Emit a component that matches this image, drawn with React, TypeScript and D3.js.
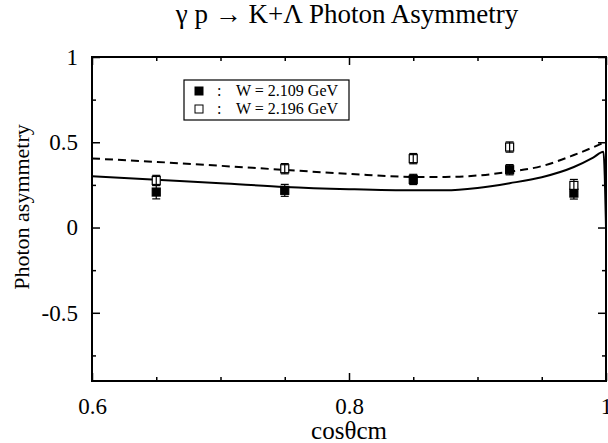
import React from 'react'
import * as d3 from 'd3'

// measured points (cos theta_cm)
const cosTheta = [0.65, 0.75, 0.85, 0.925, 0.975]
const asymW2109 = [0.208, 0.218, 0.282, 0.339, 0.202]
const errW2109 = [0.04, 0.035, 0.03, 0.03, 0.035]
const asymW2196 = [0.276, 0.345, 0.404, 0.472, 0.247]
const errW2196 = [0.03, 0.03, 0.03, 0.03, 0.035]

// model curves
const solidCos = [0.6, 0.65, 0.7, 0.75, 0.8, 0.85, 0.875, 0.9, 0.925, 0.95, 0.975, 0.99, 0.998, 1.0]
const solidAsym = [0.3, 0.28, 0.26, 0.238, 0.225, 0.218, 0.218, 0.232, 0.26, 0.295, 0.355, 0.41, 0.445, 0.0]
const dashedCos = [0.6, 0.65, 0.7, 0.75, 0.8, 0.85, 0.875, 0.9, 0.925, 0.95, 0.975, 1.0]
const dashedAsym = [0.405, 0.385, 0.362, 0.338, 0.315, 0.297, 0.297, 0.305, 0.327, 0.36, 0.425, 0.503]

const xMajor = [0.6, 0.8, 1.0]
const xMajorLabels = ['0.6', '0.8', '1']
const xMinor = [0.65, 0.7, 0.75, 0.85, 0.9, 0.95]
const yMajor = [1, 0.5, 0, -0.5]
const yMajorLabels = ['1', '0.5', '0', '-0.5']
const yMinor = [0.75, 0.25, -0.25, -0.75]

const legendLabels = ['W = 2.109 GeV', 'W = 2.196 GeV']

const FONT = "'Liberation Serif', 'Times New Roman', Times, serif"

export default class App extends React.Component {
    svgRef = React.createRef<SVGSVGElement>()

    componentDidMount () {
        this._renderChart()
    }

    componentDidUpdate () {
        this._renderChart()
    }

    _renderChart () {
        const width = 608
        const height = 443
        const margin = { top: 57, right: 2, bottom: 62, left: 92 }
        const w = width - margin.left - margin.right
        const h = height - margin.top - margin.bottom

        const root = d3.select(this.svgRef.current)
        root.selectAll('*').remove()

        const svg = root.append('g')
            .attr('transform', `translate(${margin.left},${margin.top})`)

        const x = d3.scaleLinear().domain([0.6, 1.0]).range([0, w])
        const y = d3.scaleLinear().domain([-0.9, 1]).range([h, 0])

        // ticks, all pointing inward
        const addAxis = (axis, tx, ty, labels) => {
            const g = svg.append('g')
                .attr('transform', `translate(${tx},${ty})`)
                .call(axis)
            g.select('.domain').remove()
            g.selectAll('line').attr('stroke', '#000').attr('stroke-width', 1.5)
            g.selectAll('text')
                .attr('fill', '#000')
                .style('font-family', FONT)
                .style('font-size', labels ? '23px' : '0px')
        }

        const fmtX = d => xMajorLabels[xMajor.indexOf(d)]
        const fmtY = d => yMajorLabels[yMajor.indexOf(d)]
        const none = () => ''

        addAxis(d3.axisBottom(x).tickValues(xMajor).tickSize(-8).tickSizeOuter(0).tickPadding(17).tickFormat(fmtX), 0, h, true)
        addAxis(d3.axisBottom(x).tickValues(xMinor).tickSize(-4).tickSizeOuter(0).tickFormat(none), 0, h, false)
        addAxis(d3.axisTop(x).tickValues(xMajor).tickSize(-8).tickSizeOuter(0).tickFormat(none), 0, 0, false)
        addAxis(d3.axisTop(x).tickValues(xMinor).tickSize(-4).tickSizeOuter(0).tickFormat(none), 0, 0, false)
        addAxis(d3.axisLeft(y).tickValues(yMajor).tickSize(-8).tickSizeOuter(0).tickPadding(14).tickFormat(fmtY), 0, 0, true)
        addAxis(d3.axisLeft(y).tickValues(yMinor).tickSize(-4).tickSizeOuter(0).tickFormat(none), 0, 0, false)
        addAxis(d3.axisRight(y).tickValues(yMajor).tickSize(-8).tickSizeOuter(0).tickFormat(none), w, 0, false)
        addAxis(d3.axisRight(y).tickValues(yMinor).tickSize(-4).tickSizeOuter(0).tickFormat(none), w, 0, false)

        // frame
        svg.append('rect')
            .attr('width', w)
            .attr('height', h)
            .attr('fill', 'none')
            .attr('stroke', '#000')
            .attr('stroke-width', 2)

        // curves
        const line = d3.line().curve(d3.curveMonotoneX)
        svg.append('path')
            .attr('d', line(solidCos.map((c, i) => [x(c), y(solidAsym[i])])))
            .attr('fill', 'none')
            .attr('stroke', '#000')
            .attr('stroke-width', 2)
        svg.append('path')
            .attr('d', line(dashedCos.map((c, i) => [x(c), y(dashedAsym[i])])))
            .attr('fill', 'none')
            .attr('stroke', '#000')
            .attr('stroke-width', 2)
            .attr('stroke-dasharray', '8,5')

        // data points with error bars
        const size = 8
        const series = [
            { vals: asymW2109, errs: errW2109, fill: '#000' },
            { vals: asymW2196, errs: errW2196, fill: '#fff' }
        ]
        series.forEach(s => {
            const g = svg.append('g')
            cosTheta.forEach((c, i) => {
                const cx = x(c)
                const lo = y(s.vals[i] - s.errs[i])
                const hi = y(s.vals[i] + s.errs[i])
                g.append('line').attr('x1', cx).attr('x2', cx).attr('y1', lo).attr('y2', hi)
                    .attr('stroke', '#000').attr('stroke-width', 1.2)
                g.append('line').attr('x1', cx - 4).attr('x2', cx + 4).attr('y1', lo).attr('y2', lo)
                    .attr('stroke', '#000').attr('stroke-width', 1.2)
                g.append('line').attr('x1', cx - 4).attr('x2', cx + 4).attr('y1', hi).attr('y2', hi)
                    .attr('stroke', '#000').attr('stroke-width', 1.2)
                g.append('rect')
                    .attr('x', cx - size / 2)
                    .attr('y', y(s.vals[i]) - size / 2)
                    .attr('width', size)
                    .attr('height', size)
                    .attr('fill', s.fill)
                    .attr('stroke', '#000')
                    .attr('stroke-width', 1.2)
                if (s.fill === '#fff') {
                    g.append('line').attr('x1', cx).attr('x2', cx)
                        .attr('y1', y(s.vals[i]) - size / 2).attr('y2', y(s.vals[i]) + size / 2)
                        .attr('stroke', '#000').attr('stroke-width', 1.2)
                }
            })
        })

        // legend
        const lg = root.append('g').attr('transform', 'translate(184,80)')
        lg.append('rect')
            .attr('width', 165).attr('height', 40)
            .attr('fill', '#fff').attr('stroke', '#000').attr('stroke-width', 1.2)
        legendLabels.forEach((lab, i) => {
            const base = 16 + i * 18
            lg.append('rect')
                .attr('x', 11).attr('y', base - 9).attr('width', 8).attr('height', 8)
                .attr('fill', i === 0 ? '#000' : '#fff')
                .attr('stroke', '#000').attr('stroke-width', 1)
            lg.append('text')
                .attr('x', 52).attr('y', base)
                .style('font-family', FONT).style('font-size', '16px')
                .text(lab)
            lg.append('text')
                .attr('x', 33).attr('y', base)
                .style('font-family', FONT).style('font-size', '16px')
                .text(':')
        })

        // title and axis labels
        root.append('text')
            .attr('x', 347).attr('y', 23)
            .attr('text-anchor', 'middle')
            .style('font-family', FONT).style('font-size', '27px')
            .text('γ p → K+Λ Photon Asymmetry')
        root.append('text')
            .attr('x', margin.left + w / 2).attr('y', 439)
            .attr('text-anchor', 'middle')
            .style('font-family', FONT).style('font-size', '25px')
            .text('cosθcm')
        root.append('text')
            .attr('transform', `translate(29,${margin.top + h / 2 - 12}) rotate(-90)`)
            .attr('text-anchor', 'middle')
            .style('font-family', FONT).style('font-size', '22px')
            .text('Photon asymmetry')
    }

    render () {
        return (
            <svg
                ref={this.svgRef}
                width={608}
                height={443}
                style={{ position: 'absolute', left: 0, top: 0, background: '#fff' }}
            />
        )
    }
}
